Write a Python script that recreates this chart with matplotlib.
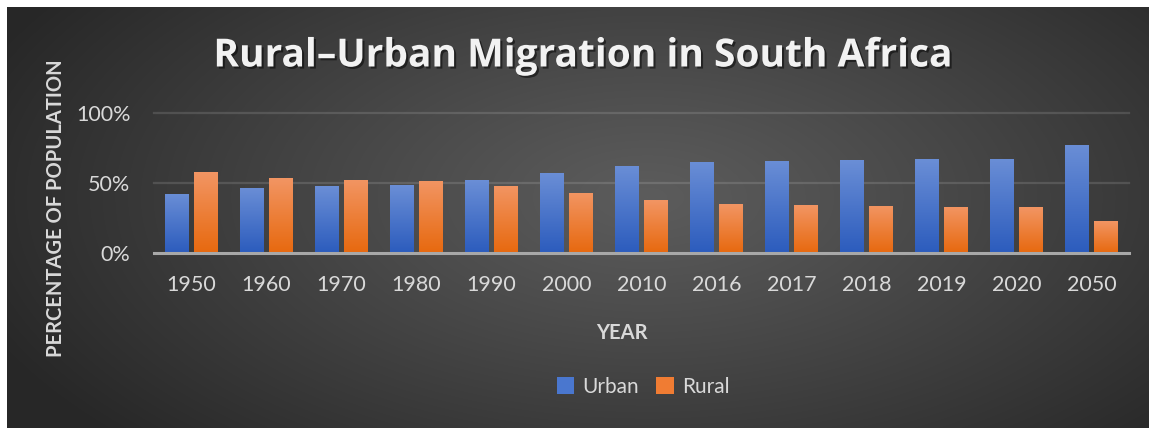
import numpy as np
import matplotlib
matplotlib.use("Agg")
import matplotlib.pyplot as plt
import matplotlib.patheffects as pe
from matplotlib.patches import Rectangle, Patch

years = ["1950", "1960", "1970", "1980", "1990", "2000", "2010", "2016", "2017", "2018", "2019", "2020", "2050"]
urban = [42.2, 46.6, 47.8, 48.4, 52.0, 56.9, 62.2, 65.3, 65.8, 66.4, 66.9, 67.4, 77.4]
rural = [57.8, 53.4, 52.2, 51.6, 48.0, 43.1, 37.8, 34.7, 34.2, 33.6, 33.1, 32.6, 22.6]
yticks = [0, 50, 100]
ytick_labels = ["0%", "50%", "100%"]

W, H = 1149, 428
fig = plt.figure(figsize=(W / 100, H / 100), dpi=100, facecolor="white")

# background radial gradient (dark chart area, white margin top/left)
bg = fig.add_axes([7 / W, 0, (W - 7) / W, (H - 7) / H])
bg.set_axis_off()
gh, gw = 421, 1142
yy, xx = np.mgrid[0:gh, 0:gw]
cx, cy = 640, 190
d = np.sqrt(((xx - cx) / 720.0) ** 2 + ((yy - cy) / 360.0) ** 2)
d = np.clip(d, 0, 1) ** 1.1
v = (0x5c * (1 - d) + 0x27 * d) / 255.0
img = np.dstack([v, v, v])
bg.imshow(img, aspect="auto", extent=[0, 1, 0, 1], origin="upper")
bg.set_xlim(0, 1)
bg.set_ylim(0, 1)

# main axes
left, right = 154 / W, 1129 / W
bottom, top = (H - 253) / H, (H - 113) / H
ax = fig.add_axes([left, bottom, right - left, top - bottom])
ax.set_facecolor("none")
ax.set_xlim(-0.5, len(years) - 0.5)
ax.set_ylim(0, 100)
for s in ax.spines.values():
    s.set_visible(False)

for g in [50, 100]:
    ax.axhline(g, color="white", alpha=0.13, lw=1.6, zorder=1, clip_on=False)
ax.axhline(0, color="#a8a8a8", lw=2.2, zorder=4, clip_on=False)

bw = 0.32
off = 0.193


def grad_bar(x, h, ctop, cbot):
    rect = Rectangle((x - bw / 2, 0), bw, h, facecolor="none", edgecolor="none")
    ax.add_patch(rect)
    sh = Rectangle((x - bw / 2, 0), bw, h, facecolor="black", edgecolor="none", alpha=0.25,
                   zorder=1.5,
                   path_effects=[pe.SimplePatchShadow(offset=(0, 0), shadow_rgbFace="black", alpha=0.3)])
    ax.add_patch(sh)
    t = np.linspace(0, 1, 64)[:, None]
    ct = np.array(matplotlib.colors.to_rgb(ctop))
    cb = np.array(matplotlib.colors.to_rgb(cbot))
    arr = ct[None, None, :] * (1 - t[:, :, None]) + cb[None, None, :] * t[:, :, None]
    im = ax.imshow(arr, extent=[x - bw / 2, x + bw / 2, 0, h], aspect="auto", origin="upper",
                   zorder=2, interpolation="bilinear")
    im.set_clip_path(rect)


for i in range(len(years)):
    grad_bar(i - off, urban[i], "#6a8ed6", "#2c5cbd")
    grad_bar(i + off, rural[i], "#f29563", "#e7690f")

ax.set_xlim(-0.5, len(years) - 0.5)
ax.set_ylim(0, 100)

fam = ["Lato", "DejaVu Sans"]
tc = "#d9d9d9"
ax.set_xticks(range(len(years)))
ax.set_xticklabels(years, fontsize=15.5, color=tc, family=fam)
ax.set_yticks(yticks)
ax.set_yticklabels(ytick_labels, fontsize=15.5, color=tc, family=fam)
ax.tick_params(axis="both", length=0)
ax.tick_params(axis="x", pad=16)
ax.tick_params(axis="y", pad=17)

# y label
fig.text(56 / W, 1 - 208 / H, "PERCENTAGE OF POPULATION", rotation=90, ha="center", va="center",
         fontsize=14.5, fontweight="bold", color=tc, family=fam)
# x label
fig.text(622 / W, 1 - 333 / H, "YEAR", ha="center", va="center",
         fontsize=14.5, fontweight="bold", color=tc, family=fam)

# title
title = fig.text(582 / W, 1 - 56 / H, "Rural\u2013Urban Migration in South Africa", ha="center", va="center",
                 fontsize=25, fontweight="bold", color="#f2f2f2", family=["Open Sans", "DejaVu Sans"],
                 path_effects=[pe.withSimplePatchShadow(offset=(1.5, -1.5), shadow_rgbFace="black", alpha=0.5)])
r = fig.canvas.get_renderer()
wpx = title.get_window_extent(r).width
title.set_fontsize(min(25 * 760 / wpx, 28))

# legend
handles = [Patch(facecolor="#4a77cf", edgecolor="none"), Patch(facecolor="#f07c33", edgecolor="none")]
leg = fig.legend(handles, ["Urban", "Rural"], loc="center", bbox_to_anchor=(643 / W, 1 - 387 / H),
                 ncol=2, frameon=False, labelcolor=tc, handlelength=0.85, handleheight=0.85,
                 handletextpad=0.4, columnspacing=0.8, prop={"family": fam, "size": 15})

fig.savefig("out.png", dpi=100, facecolor="white")
